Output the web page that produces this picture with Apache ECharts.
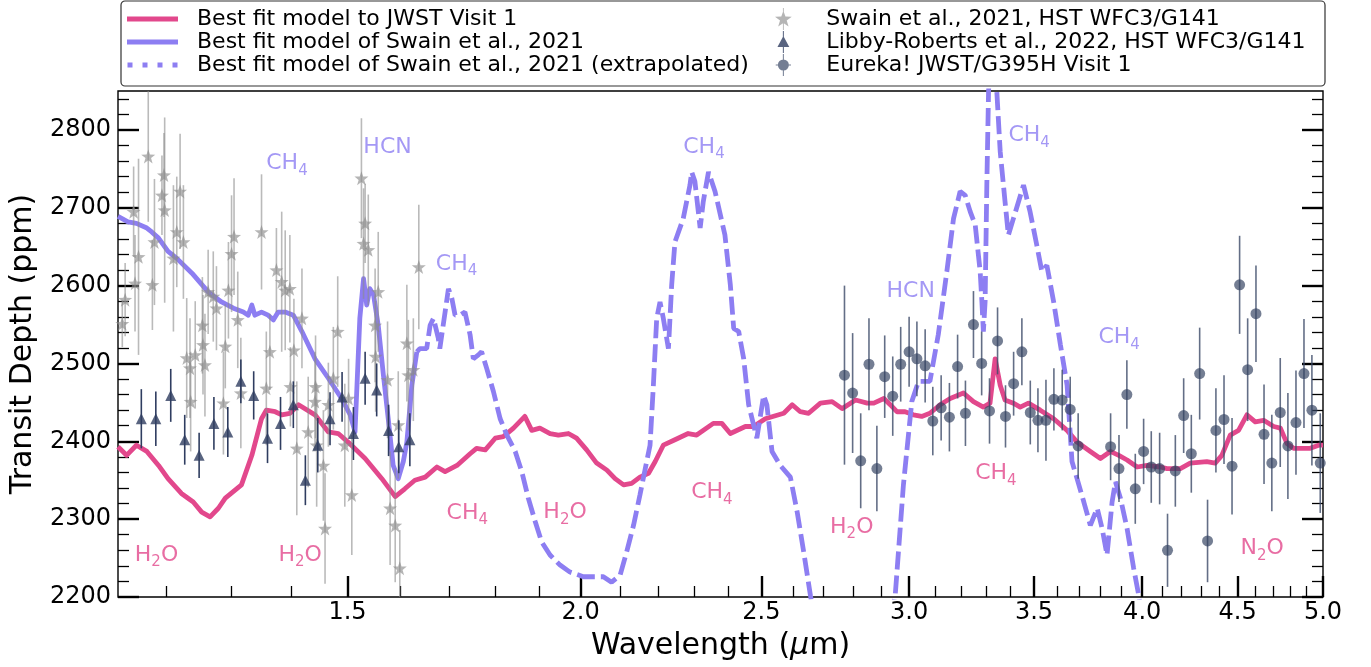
<!DOCTYPE html>
<html>
<head>
<meta charset="utf-8">
<title>Transit depth spectrum</title>
<script src="https://cdn.jsdelivr.net/npm/echarts@6/dist/echarts.min.js"></script>
<style>
    html, body { margin: 0; padding: 0; background: #fff; }
    #chart { width: 1371px; height: 667px; }
</style>
</head>
<body>
<div id="chart"></div>
<script>
// best fit model to JWST visit 1
var fitWl = [1.130, 1.142, 1.156, 1.171, 1.188, 1.202, 1.222, 1.240, 1.253, 1.266,
    1.279, 1.290, 1.316, 1.333, 1.349, 1.357, 1.372, 1.383, 1.397, 1.412,
    1.441, 1.465, 1.483, 1.501, 1.533, 1.565, 1.591, 1.610, 1.630, 1.651,
    1.675, 1.692, 1.717, 1.745, 1.759, 1.778, 1.800, 1.818, 1.841, 1.867,
    1.883, 1.902, 1.926, 1.946, 1.970, 1.990, 2.015, 2.040, 2.066, 2.087,
    2.109, 2.130, 2.152, 2.175, 2.193, 2.215, 2.247, 2.284, 2.308, 2.356,
    2.381, 2.406, 2.451, 2.476, 2.512, 2.570, 2.597, 2.623, 2.650, 2.689,
    2.728, 2.762, 2.808, 2.849, 2.872, 2.908, 2.931, 2.955, 2.985, 3.016,
    3.047, 3.078, 3.117, 3.156, 3.208, 3.248, 3.288, 3.315, 3.336, 3.357,
    3.377, 3.412, 3.441, 3.476, 3.527, 3.586, 3.646, 3.691, 3.752, 3.799,
    3.846, 3.886, 3.926, 3.975, 4.024, 4.091, 4.124, 4.193, 4.244, 4.332,
    4.377, 4.413, 4.459, 4.505, 4.552, 4.599, 4.647, 4.705, 4.744, 4.783,
    4.822, 4.922, 4.973, 5.000];
var fitTd = [2393, 2382, 2395, 2387, 2369, 2352, 2333, 2322, 2309, 2303,
    2314, 2327, 2344, 2382, 2429, 2440, 2438, 2434, 2436, 2447,
    2434, 2412, 2410, 2399, 2378, 2352, 2329, 2339, 2350, 2354,
    2367, 2361, 2369, 2384, 2391, 2389, 2404, 2406, 2417, 2432,
    2414, 2417, 2410, 2408, 2410, 2404, 2389, 2372, 2363, 2352,
    2344, 2346, 2354, 2359, 2374, 2395, 2402, 2410, 2408, 2423,
    2423, 2410, 2419, 2419, 2429, 2436, 2447, 2438, 2436, 2449,
    2451, 2442, 2453, 2449, 2449, 2455, 2447, 2438, 2438, 2434,
    2432, 2436, 2447, 2455, 2462, 2451, 2444, 2449, 2506, 2472,
    2453, 2449, 2444, 2449, 2440, 2429, 2414, 2399, 2387, 2378,
    2387, 2382, 2376, 2367, 2369, 2367, 2365, 2365, 2372, 2374,
    2372, 2382, 2408, 2414, 2434, 2425, 2427, 2419, 2417, 2397,
    2391, 2391, 2395, 2395];

// Swain et al. 2021 model, HST range
var swainWl = [1.130, 1.144, 1.156, 1.171, 1.178, 1.188, 1.202, 1.215, 1.238, 1.263,
    1.284, 1.303, 1.319, 1.327, 1.333, 1.338, 1.349, 1.360, 1.369, 1.377,
    1.389, 1.403, 1.418, 1.441, 1.465, 1.489, 1.505, 1.514, 1.523, 1.530,
    1.536, 1.542, 1.549, 1.558, 1.568, 1.578, 1.587, 1.597, 1.607, 1.614,
    1.624, 1.634];
var swainTd = [2689, 2682, 2680, 2674, 2669, 2661, 2644, 2635, 2616, 2592,
    2579, 2571, 2566, 2562, 2575, 2562, 2566, 2562, 2556, 2566,
    2566, 2562, 2541, 2506, 2481, 2455, 2434, 2412, 2558, 2609,
    2575, 2596, 2588, 2549, 2485, 2425, 2369, 2352, 2374, 2399,
    2472, 2515];

// Swain et al. 2021 model, extrapolated
var extWl = [1.634, 1.640, 1.654, 1.661, 1.668, 1.678, 1.681, 1.692, 1.699, 1.706,
    1.713, 1.723, 1.734, 1.745, 1.752, 1.763, 1.770, 1.781, 1.796, 1.811,
    1.826, 1.845, 1.860, 1.875, 1.891, 1.906, 1.926, 1.950, 1.974, 2.007,
    2.040, 2.057, 2.078, 2.100, 2.117, 2.135, 2.152, 2.170, 2.179, 2.188,
    2.197, 2.206, 2.215, 2.229, 2.238, 2.247, 2.270, 2.289, 2.294, 2.303,
    2.318, 2.327, 2.342, 2.361, 2.390, 2.406, 2.416, 2.431, 2.446, 2.461,
    2.486, 2.507, 2.517, 2.533, 2.559, 2.591, 2.613, 2.634, 2.656, 2.680,
    2.920, 2.949, 2.979, 3.010, 3.035, 3.054, 3.078, 3.110, 3.143, 3.169,
    3.195, 3.215, 3.235, 3.255, 3.275, 3.282, 3.288, 3.295, 3.302, 3.309,
    3.325, 3.343, 3.357, 3.377, 3.391, 3.412, 3.455, 3.483, 3.512, 3.534,
    3.556, 3.586, 3.616, 3.646, 3.668, 3.691, 3.722, 3.752, 3.784, 3.807,
    3.830, 3.854, 3.870, 3.894, 3.926, 3.958, 3.983, 4.010];
var extTd = [2515, 2519, 2519, 2549, 2558, 2532, 2519, 2566, 2596, 2584,
    2562, 2562, 2566, 2537, 2506, 2511, 2515, 2494, 2464, 2429,
    2408, 2387, 2361, 2327, 2297, 2271, 2254, 2241, 2232, 2226,
    2226, 2226, 2219, 2228, 2258, 2292, 2331, 2374, 2395, 2472,
    2558, 2579, 2558, 2519, 2601, 2656, 2686, 2729, 2746, 2734,
    2674, 2708, 2746, 2721, 2665, 2601, 2545, 2541, 2506, 2447,
    2404, 2459, 2447, 2387, 2369, 2354, 2309, 2258, 2202, 2150,
    2150, 2202, 2344, 2451, 2477, 2477, 2477, 2537, 2618, 2686,
    2721, 2716, 2695, 2678, 2618, 2579, 2541, 2579, 2729, 2849,
    2950, 2849, 2772, 2708, 2665, 2686, 2729, 2695, 2652, 2618,
    2626, 2579, 2524, 2472, 2374, 2352, 2322, 2292, 2314, 2288,
    2254, 2322, 2348, 2327, 2288, 2237, 2202, 2150];

// Swain et al. 2021, HST WFC3/G141
var hstWl = [1.140, 1.136, 1.152, 1.154, 1.159, 1.173, 1.179, 1.182, 1.193, 1.196,
    1.197, 1.210, 1.215, 1.220, 1.225, 1.230, 1.235, 1.236, 1.243, 1.254,
    1.255, 1.258, 1.263, 1.271, 1.276, 1.287, 1.290, 1.295, 1.300, 1.304,
    1.310, 1.315, 1.349, 1.357, 1.363, 1.374, 1.383, 1.389, 1.397, 1.398,
    1.404, 1.409, 1.418, 1.429, 1.441, 1.442, 1.444, 1.456, 1.459, 1.465,
    1.474, 1.482, 1.495, 1.502, 1.508, 1.526, 1.533, 1.530, 1.539, 1.558,
    1.552, 1.553, 1.576, 1.581, 1.591, 1.597, 1.600, 1.614, 1.617, 1.627,
    1.638];
var hstTd = [2582, 2551, 2695, 2603, 2637, 2766, 2601, 2656, 2716, 2742,
    2697, 2635, 2669, 2721, 2656, 2507, 2494, 2451, 2511, 2549,
    2524, 2498, 2592, 2586, 2571, 2449, 2522, 2594, 2641, 2663,
    2556, 2462, 2669, 2468, 2515, 2620, 2605, 2594, 2596, 2470,
    2517, 2391, 2558, 2412, 2451, 2470, 2395, 2369, 2288, 2447,
    2481, 2541, 2395, 2455, 2331, 2738, 2680, 2654, 2646, 2592,
    2549, 2509, 2479, 2314, 2292, 2421, 2237, 2526, 2485, 2492,
    2624];
var hstErr = [47, 30, 58, 62, 126, 84, 58, 81, 51, 54,
    119, 94, 71, 74, 73, 77, 64, 64, 69, 62,
    64, 66, 54, 58, 54, 66, 54, 62, 75, 75,
    62, 71, 74, 73, 49, 54, 90, 77, 69, 51,
    66, 86, 64, 71, 64, 66, 79, 71, 71, 54,
    66, 71, 79, 51, 77, 77, 51, 71, 71, 77,
    73, 71, 75, 73, 73, 69, 49, 75, 71, 66,
    80];

// Libby-Roberts et al. 2022, HST WFC3/G141
var libbyWl = [1.163, 1.184, 1.206, 1.227, 1.249, 1.272, 1.294, 1.315, 1.336, 1.359,
    1.381, 1.403, 1.424, 1.446, 1.468, 1.490, 1.511, 1.533, 1.555, 1.578,
    1.598, 1.620];
var libbyTd = [2429, 2429, 2459, 2402, 2382, 2423, 2412, 2477, 2459, 2404,
    2423, 2447, 2350, 2395, 2429, 2457, 2410, 2481, 2466, 2414,
    2393, 2402];
var libbyErr = [38, 35, 34, 32, 29, 34, 32, 28, 31, 32,
    34, 30, 32, 35, 34, 32, 34, 34, 34, 33,
    34, 34];

// Eureka! JWST/G395H visit 1
var eurekaWl = [2.770, 2.798, 2.826, 2.855, 2.883, 2.911, 2.940, 2.969, 3.000, 3.029,
    3.060, 3.089, 3.121, 3.153, 3.185, 3.216, 3.248, 3.281, 3.313, 3.346,
    3.379, 3.413, 3.448, 3.484, 3.517, 3.552, 3.587, 3.624, 3.660, 3.696,
    3.847, 3.887, 3.925, 3.966, 4.007, 4.045, 4.087, 4.127, 4.167, 4.210,
    4.250, 4.294, 4.336, 4.381, 4.425, 4.469, 4.511, 4.556, 4.603, 4.649,
    4.694, 4.743, 4.788, 4.836, 4.884, 4.932, 4.983];
var eurekaTd = [2485, 2462, 2375, 2499, 2365, 2483, 2458, 2499, 2515, 2506,
    2497, 2426, 2443, 2431, 2496, 2436, 2550, 2500, 2439, 2529,
    2432, 2474, 2515, 2437, 2427, 2427, 2454, 2453, 2441, 2394,
    2393, 2365, 2460, 2339, 2387, 2367, 2365, 2260, 2362, 2433,
    2384, 2487, 2272, 2414, 2428, 2368, 2601, 2492, 2564, 2409,
    2372, 2437, 2394, 2424, 2487, 2440, 2372];
var eurekaErr = [115, 77, 61, 59, 55, 53, 51, 48, 45, 48,
    47, 44, 42, 44, 41, 42, 43, 41, 42, 43,
    40, 41, 43, 41, 41, 52, 40, 39, 42, 42,
    43, 43, 44, 45, 42, 46, 46, 47, 46, 48,
    50, 59, 53, 54, 57, 62, 63, 66, 62, 64,
    62, 70, 68, 67, 70, 71, 64];

// molecule labels
var swainLabelWl = [1.392, 1.576, 1.716, 2.329, 3.006, 3.479, 3.888];
var swainLabelTd = [2757, 2778, 2628, 2778, 2593, 2793, 2533];
var swainLabelText = ['CH4', 'HCN', 'CH4', 'CH4', 'HCN', 'CH4', 'CH4'];
var fitLabelWl = [1.185, 1.415, 1.739, 1.962, 2.352, 2.795, 3.339, 4.638];
var fitLabelTd = [2254, 2254, 2308, 2309, 2334, 2290, 2359, 2262];
var fitLabelText = ['H2O', 'H2O', 'CH4', 'H2O', 'CH4', 'H2O', 'CH4', 'N2O'];

// axis ticks
var xMajorTicks = [1.5, 2.0, 2.5, 3.0, 3.5, 4.0, 4.5, 5.0];
var yMajorTicks = [2200, 2300, 2400, 2500, 2600, 2700, 2800];

var FONT = 'DejaVu Sans';
var PINK = '#e2488c';
var PURPLE = '#8d7ef2';

// tiny stand-in for jQuery's extend
var $ = {
    extend: function (a, b) {
        for (var k in b) { if (b.hasOwnProperty(k)) a[k] = b[k]; }
        return a;
    }
};

var page = {
    init: function () {
        var chart = echarts.init(document.getElementById('chart'), null, { renderer: 'canvas' });
        chart.setOption(page.option());
    },
    pairs: function (xs, ys) {
        var out = [];
        for (var i = 0; i < xs.length; i++) {
            out.push([xs[i], ys[i]]);
        }
        return out;
    },
    errorBars: function (name, xs, ys, es, color, z) {
        var data = [];
        for (var i = 0; i < xs.length; i++) {
            data.push([xs[i], ys[i], es[i]]);
        }
        return {
            name: name,
            type: 'custom',
            xAxisIndex: 0,
            yAxisIndex: 0,
            clip: true,
            silent: true,
            z: z,
            encode: { x: 0, y: 1 },
            data: data,
            renderItem: function (params, api) {
                var x = api.value(0), y = api.value(1), e = api.value(2);
                var lo = api.coord([x, y - e]);
                var hi = api.coord([x, y + e]);
                return {
                    type: 'line',
                    shape: { x1: lo[0], y1: lo[1], x2: hi[0], y2: hi[1] },
                    style: { stroke: color, lineWidth: 1.6 }
                };
            }
        };
    },
    chem: function (t) {
        return t.replace(/(\D+)/g, '{n|$1}').replace(/(\d)/g, '{s|$1}');
    },
    labels: function (name, xs, ys, texts, color) {
        var data = [];
        for (var i = 0; i < xs.length; i++) {
            data.push({ name: texts[i], value: [xs[i], ys[i]] });
        }
        return {
            name: name,
            type: 'scatter',
            silent: true,
            z: 12,
            symbolSize: 1,
            itemStyle: { color: 'transparent' },
            data: data,
            label: {
                show: true,
                position: 'inside',
                formatter: function (p) { return page.chem(p.name); },
                rich: {
                    n: { fontFamily: FONT, fontSize: 22, color: color, lineHeight: 22, verticalAlign: 'top' },
                    s: { fontFamily: FONT, fontSize: 15, color: color, lineHeight: 15, verticalAlign: 'top', padding: [11, 0, 0, 0] }
                }
            }
        };
    },
    option: function () {
        var lx0 = Math.log10(1.13), lx1 = Math.log10(5.0);
        var xMajor = xMajorTicks.map(function (v) { return Math.log10(v); });
        var xMinor = [];
        for (var k = 12; k < 50; k++) {
            if (k % 5 !== 0) xMinor.push(Math.log10(k / 10));
        }
        var yMinor = [];
        for (var m = 2220; m < 2850; m += 20) {
            if (m % 100 !== 0) yMinor.push(m);
        }
        var tickAxis = function (pos, values, len, width, withLabel) {
            return {
                type: 'value', position: pos, min: 2200, max: 2850,
                splitLine: { show: false },
                axisLine: { show: false },
                axisTick: { show: true, inside: true, length: len, customValues: values, lineStyle: { color: '#000', width: width } },
                axisLabel: {
                    show: withLabel, customValues: values, margin: 7,
                    fontFamily: FONT, fontSize: 24, color: '#000',
                    formatter: function (v) { return String(Math.round(v)); }
                }
            };
        };
        var xTickAxis = function (values, len, width, withLabel) {
            return {
                type: 'value', position: 'bottom', min: lx0, max: lx1,
                splitLine: { show: false },
                axisLine: { show: false },
                axisTick: { show: true, inside: true, length: len, customValues: values, lineStyle: { color: '#000', width: width } },
                axisLabel: {
                    show: withLabel, customValues: values, margin: 4,
                    fontFamily: FONT, fontSize: 24, color: '#000',
                    formatter: function (v) { return Math.pow(10, v).toFixed(1); }
                }
            };
        };

        var xLabelAxis = xTickAxis(xMajor, 21, 2.4, true);
        xLabelAxis.name = 'Wavelength ({i|μ}m)';
        xLabelAxis.nameLocation = 'middle';
        xLabelAxis.nameGap = 34;
        xLabelAxis.nameTextStyle = {
            fontFamily: FONT, fontSize: 30, color: '#000',
            rich: { i: { fontFamily: FONT, fontSize: 30, fontStyle: 'italic', color: '#000' } }
        };

        var yLabelAxis = tickAxis('left', yMajorTicks, 21, 2.4, true);
        yLabelAxis.name = 'Transit Depth (ppm)';
        yLabelAxis.nameLocation = 'middle';
        yLabelAxis.nameRotate = 90;
        yLabelAxis.nameGap = 80;
        yLabelAxis.nameTextStyle = { fontFamily: FONT, fontSize: 30, color: '#000' };

        var starPath = 'path://M10,0 L12.35,6.76 L19.51,6.91 L13.8,11.24 L15.88,18.09 L10,14 L4.12,18.09 L6.2,11.24 L0.49,6.91 L7.65,6.76 Z';
        var starIcon = starPath.replace(' Z', ' Z M9.5,-3 h1 v25 h-1 Z');
        var triIcon = 'path://M9.4,-3 h1.2 v26 h-1.2 Z M10,3 L17,16 L3,16 Z';
        var dotIcon = 'path://M3.5,10 A6.5,6.5 0 1,1 16.5,10 A6.5,6.5 0 1,1 3.5,10 Z M9.4,-3 h1.2 v26 h-1.2 Z M1,9.4 h18 v1.2 h-18 Z';
        var dashIcon = 'path://M0,0 h4 v4 h-4 Z M12,0 h4 v4 h-4 Z M24,0 h4 v4 h-4 Z M36,0 h4 v4 h-4 Z';

        var legendText = { fontFamily: FONT, fontSize: 22, color: '#000', lineHeight: 22 };

        return {
            animation: false,
            backgroundColor: '#fff',
            grid: {
                left: 118, right: 48, top: 91, bottom: 70,
                containLabel: false,
                outerBoundsMode: 'none',
                show: true, borderColor: '#000', borderWidth: 1.4, backgroundColor: 'transparent'
            },
            graphic: [{
                type: 'rect', z: 0, silent: true,
                shape: { x: 121, y: 1, width: 1204, height: 85, r: 4 },
                style: { fill: '#fff', stroke: '#333', lineWidth: 1.2 }
            }],
            legend: [{
                left: 127, top: 8, orient: 'vertical', padding: 0, itemGap: 1,
                itemWidth: 51, itemHeight: 5, selectedMode: false, z: 5,
                textStyle: $.extend({ padding: [0, 0, 0, 14] }, legendText),
                data: [
                    { name: 'Best fit model to JWST Visit 1', icon: 'rect' },
                    { name: 'Best fit model of Swain et al., 2021', icon: 'rect' },
                    { name: 'Best fit model of Swain et al., 2021 (extrapolated)', icon: dashIcon }
                ]
            }, {
                left: 775, top: 8, orient: 'vertical', padding: 0, itemGap: 1,
                itemWidth: 20, itemHeight: 22, selectedMode: false, z: 5,
                textStyle: $.extend({ padding: [0, 0, 0, 28] }, legendText),
                data: [
                    { name: 'Swain et al., 2021, HST WFC3/G141', icon: starIcon },
                    { name: 'Libby-Roberts et al., 2022, HST WFC3/G141', icon: triIcon },
                    { name: 'Eureka! JWST/G395H Visit 1', icon: dotIcon }
                ]
            }],
            xAxis: [
                {
                    type: 'log', min: 1.13, max: 5.0, position: 'bottom', show: false,
                    splitLine: { show: false }
                },
                xLabelAxis,
                xTickAxis(xMinor, 11, 1.3, false)
            ],
            yAxis: [
                yLabelAxis,
                tickAxis('left', yMinor, 11, 1.3, false),
                tickAxis('right', yMajorTicks, 21, 2.4, false),
                tickAxis('right', yMinor, 11, 1.3, false)
            ],
            series: [
                {
                    name: 'Best fit model to JWST Visit 1', type: 'line', z: 3,
                    xAxisIndex: 0, yAxisIndex: 0, symbol: 'none', clip: true, silent: true,
                    itemStyle: { color: PINK },
                    lineStyle: { color: PINK, width: 4.8, join: 'round' },
                    data: page.pairs(fitWl, fitTd)
                },
                {
                    name: 'Best fit model of Swain et al., 2021', type: 'line', z: 4,
                    xAxisIndex: 0, yAxisIndex: 0, symbol: 'none', clip: true, silent: true,
                    itemStyle: { color: PURPLE },
                    lineStyle: { color: PURPLE, width: 4.8, join: 'round' },
                    data: page.pairs(swainWl, swainTd)
                },
                {
                    name: 'Best fit model of Swain et al., 2021 (extrapolated)', type: 'line', z: 4,
                    xAxisIndex: 0, yAxisIndex: 0, symbol: 'none', clip: true, silent: true,
                    itemStyle: { color: PURPLE },
                    lineStyle: { color: PURPLE, width: 4.8, type: [18, 6], cap: 'butt' },
                    data: page.pairs(extWl, extTd)
                },
                page.errorBars('hst-err', hstWl, hstTd, hstErr, 'rgba(140,140,140,0.6)', 5),
                {
                    name: 'Swain et al., 2021, HST WFC3/G141', type: 'scatter', z: 6,
                    xAxisIndex: 0, yAxisIndex: 0, silent: true,
                    symbol: starPath, symbolSize: 14,
                    itemStyle: { color: 'rgba(140,140,140,0.8)' },
                    data: page.pairs(hstWl, hstTd)
                },
                page.errorBars('libby-err', libbyWl, libbyTd, libbyErr, '#2f3d60', 7),
                {
                    name: 'Libby-Roberts et al., 2022, HST WFC3/G141', type: 'scatter', z: 8,
                    xAxisIndex: 0, yAxisIndex: 0, silent: true,
                    symbol: 'triangle', symbolSize: 11,
                    itemStyle: { color: '#2f3d60' },
                    data: page.pairs(libbyWl, libbyTd)
                },
                page.errorBars('eureka-err', eurekaWl, eurekaTd, eurekaErr, 'rgba(60,74,104,0.8)', 7),
                {
                    name: 'Eureka! JWST/G395H Visit 1', type: 'scatter', z: 8,
                    xAxisIndex: 0, yAxisIndex: 0, silent: true,
                    symbol: 'circle', symbolSize: 11,
                    itemStyle: { color: 'rgba(52,66,96,0.85)' },
                    data: page.pairs(eurekaWl, eurekaTd)
                },
                page.labels('swain-labels', swainLabelWl, swainLabelTd, swainLabelText, PURPLE),
                page.labels('fit-labels', fitLabelWl, fitLabelTd, fitLabelText, PINK)
            ]
        };
    }
};

page.init();
</script>
</body>
</html>
